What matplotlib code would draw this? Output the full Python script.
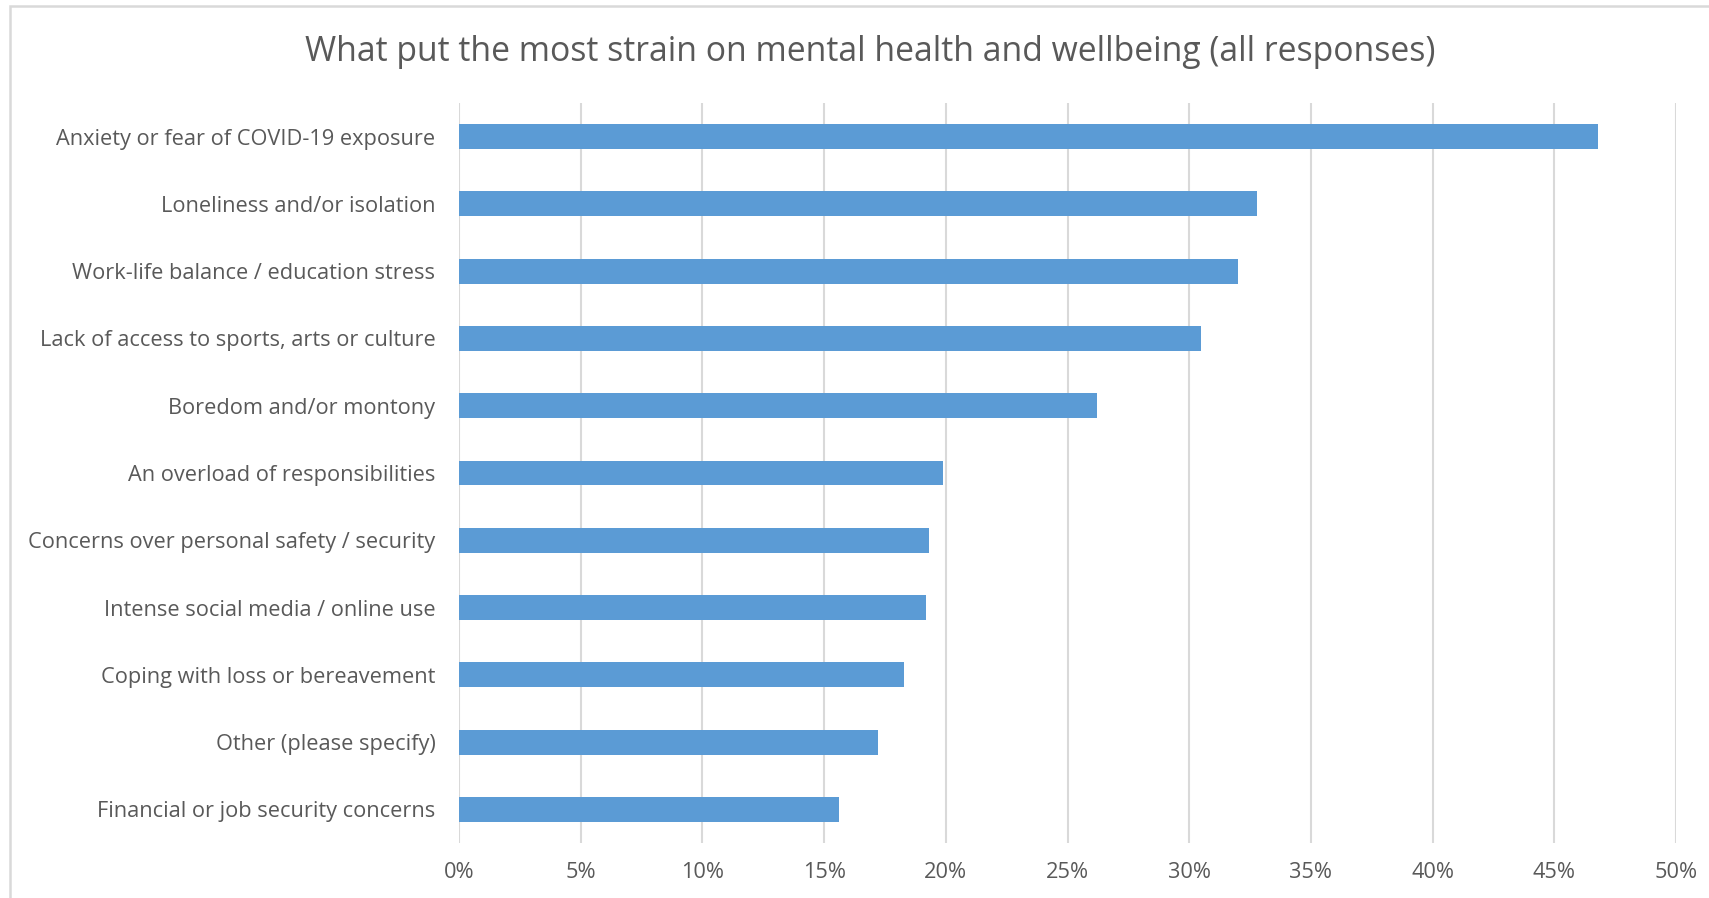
import matplotlib.pyplot as plt
from matplotlib.patches import Rectangle
from matplotlib.ticker import PercentFormatter

categories = ['Anxiety or fear of COVID-19 exposure',
              'Loneliness and/or isolation',
              'Work-life balance / education stress',
              'Lack of access to sports, arts or culture',
              'Boredom and/or montony',
              'An overload of responsibilities',
              'Concerns over personal safety / security',
              'Intense social media / online use',
              'Coping with loss or bereavement',
              'Other (please specify)',
              'Financial or job security concerns']
values = [46.8, 32.8, 32.0, 30.5, 26.2, 19.9, 19.3, 19.2, 18.3, 17.2, 15.6]
xticks = [0, 5, 10, 15, 20, 25, 30, 35, 40, 45, 50]

plt.rcParams['font.family'] = ['Open Sans', 'DejaVu Sans']

fig = plt.figure(figsize=(17.09, 8.98), dpi=100)
ax = fig.add_axes([459 / 1709, 1 - 843 / 898, 1217 / 1709, 740 / 898])

y = list(range(len(categories)))
ax.barh(y, values, height=0.37, color='#5B9BD5', zorder=3)
ax.set_ylim(len(categories) - 0.5, -0.5)
ax.set_yticks(y)
ax.set_yticklabels(categories)
ax.set_xlim(0, 50)
ax.set_xticks(xticks)
ax.xaxis.set_major_formatter(PercentFormatter(decimals=0))
ax.grid(axis='x', color='#D9D9D9', linewidth=1.5, zorder=0)
for s in ax.spines.values():
    s.set_visible(False)
ax.tick_params(axis='both', length=0, colors='#595959', labelsize=15.7)
ax.tick_params(axis='y', pad=17)
ax.tick_params(axis='x', pad=14)

fig.text(870 / 1709, 1 - 52 / 898, 'What put the most strain on mental health and wellbeing (all responses)',
         ha='center', va='center', fontsize=24.3, color='#595959')

# chart border, only left and top edges fall inside the image
fig.patches.append(Rectangle((10 / 1709, -0.05), 1.1, 1.05 - 6 / 898, transform=fig.transFigure,
                             fill=False, edgecolor='#D9D9D9', linewidth=1.8))

fig.savefig('out.png', dpi=100)
